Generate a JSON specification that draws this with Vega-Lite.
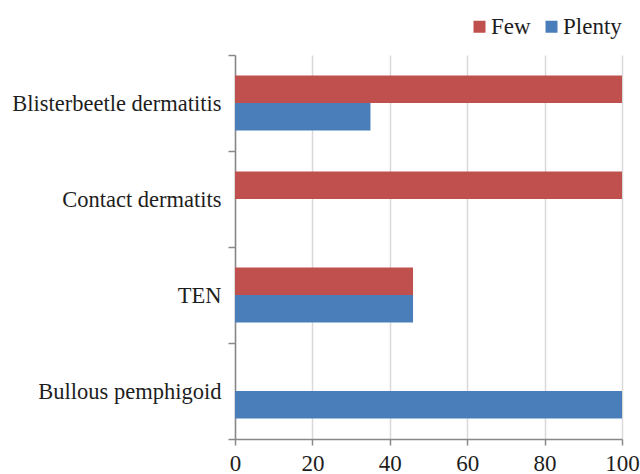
{
  "$schema": "https://vega.github.io/schema/vega-lite/v6.json",
  "width": 387,
  "height": 384,
  "autosize": {"type": "none"},
  "padding": {"left": 235, "top": 55, "right": 18, "bottom": 35},
  "background": "white",
  "config": {
    "view": {"stroke": null},
    "font": "Liberation Serif",
    "axis": {"labelFont": "Liberation Serif"},
    "legend": {"labelFont": "Liberation Serif"}
  },
  "data": {
    "values": [
      {"category": "Blisterbeetle dermatitis", "series": "Few", "value": 100},
      {"category": "Blisterbeetle dermatitis", "series": "Plenty", "value": 35},
      {"category": "Contact dermatits", "series": "Few", "value": 100},
      {"category": "Contact dermatits", "series": "Plenty", "value": 0},
      {"category": "TEN", "series": "Few", "value": 46},
      {"category": "TEN", "series": "Plenty", "value": 46},
      {"category": "Bullous pemphigoid", "series": "Few", "value": 0},
      {"category": "Bullous pemphigoid", "series": "Plenty", "value": 100}
    ]
  },
  "mark": {"type": "bar", "orient": "horizontal"},
  "encoding": {
    "y": {
      "field": "category",
      "type": "nominal",
      "sort": ["Blisterbeetle dermatitis", "Contact dermatits", "TEN", "Bullous pemphigoid"],
      "scale": {"paddingInner": 0, "paddingOuter": 0},
      "axis": {
        "title": null,
        "tickBand": "extent",
        "tickSize": 7,
        "tickColor": "#888888",
        "domainColor": "#888888",
        "domainWidth": 1.5,
        "tickWidth": 1.5,
        "labelFontSize": 22.5,
        "labelColor": "#1e1e1e",
        "labelPadding": 7,
        "labelLimit": 0,
        "labelFont": "Liberation Serif"
      }
    },
    "yOffset": {
      "field": "series",
      "type": "nominal",
      "sort": ["Few", "Plenty"],
      "scale": {"paddingInner": 0, "paddingOuter": 0.745}
    },
    "x": {
      "field": "value",
      "type": "quantitative",
      "scale": {"domain": [0, 100], "nice": false},
      "axis": {
        "title": null,
        "values": [0, 20, 40, 60, 80, 100],
        "grid": true,
        "gridColor": "#d9d9d9",
        "gridWidth": 1.5,
        "domainColor": "#888888",
        "domainWidth": 1.5,
        "tickColor": "#888888",
        "tickWidth": 1.5,
        "tickSize": 6,
        "labelFontSize": 23,
        "labelColor": "#1e1e1e",
        "labelPadding": 7,
        "labelFont": "Liberation Serif",
        "labelOverlap": false,
        "labelFlush": false
      }
    },
    "color": {
      "field": "series",
      "type": "nominal",
      "scale": {"domain": ["Few", "Plenty"], "range": ["#C0504D", "#4A7EBB"]},
      "legend": {
        "title": null,
        "orient": "none",
        "direction": "horizontal",
        "legendX": 233,
        "legendY": -40,
        "symbolType": "square",
        "symbolSize": 144,
        "symbolStrokeWidth": 0,
        "labelFontSize": 23,
        "labelColor": "#1e1e1e",
        "labelFont": "Liberation Serif",
        "labelOffset": 0,
        "columnPadding": 9
      }
    }
  }
}
